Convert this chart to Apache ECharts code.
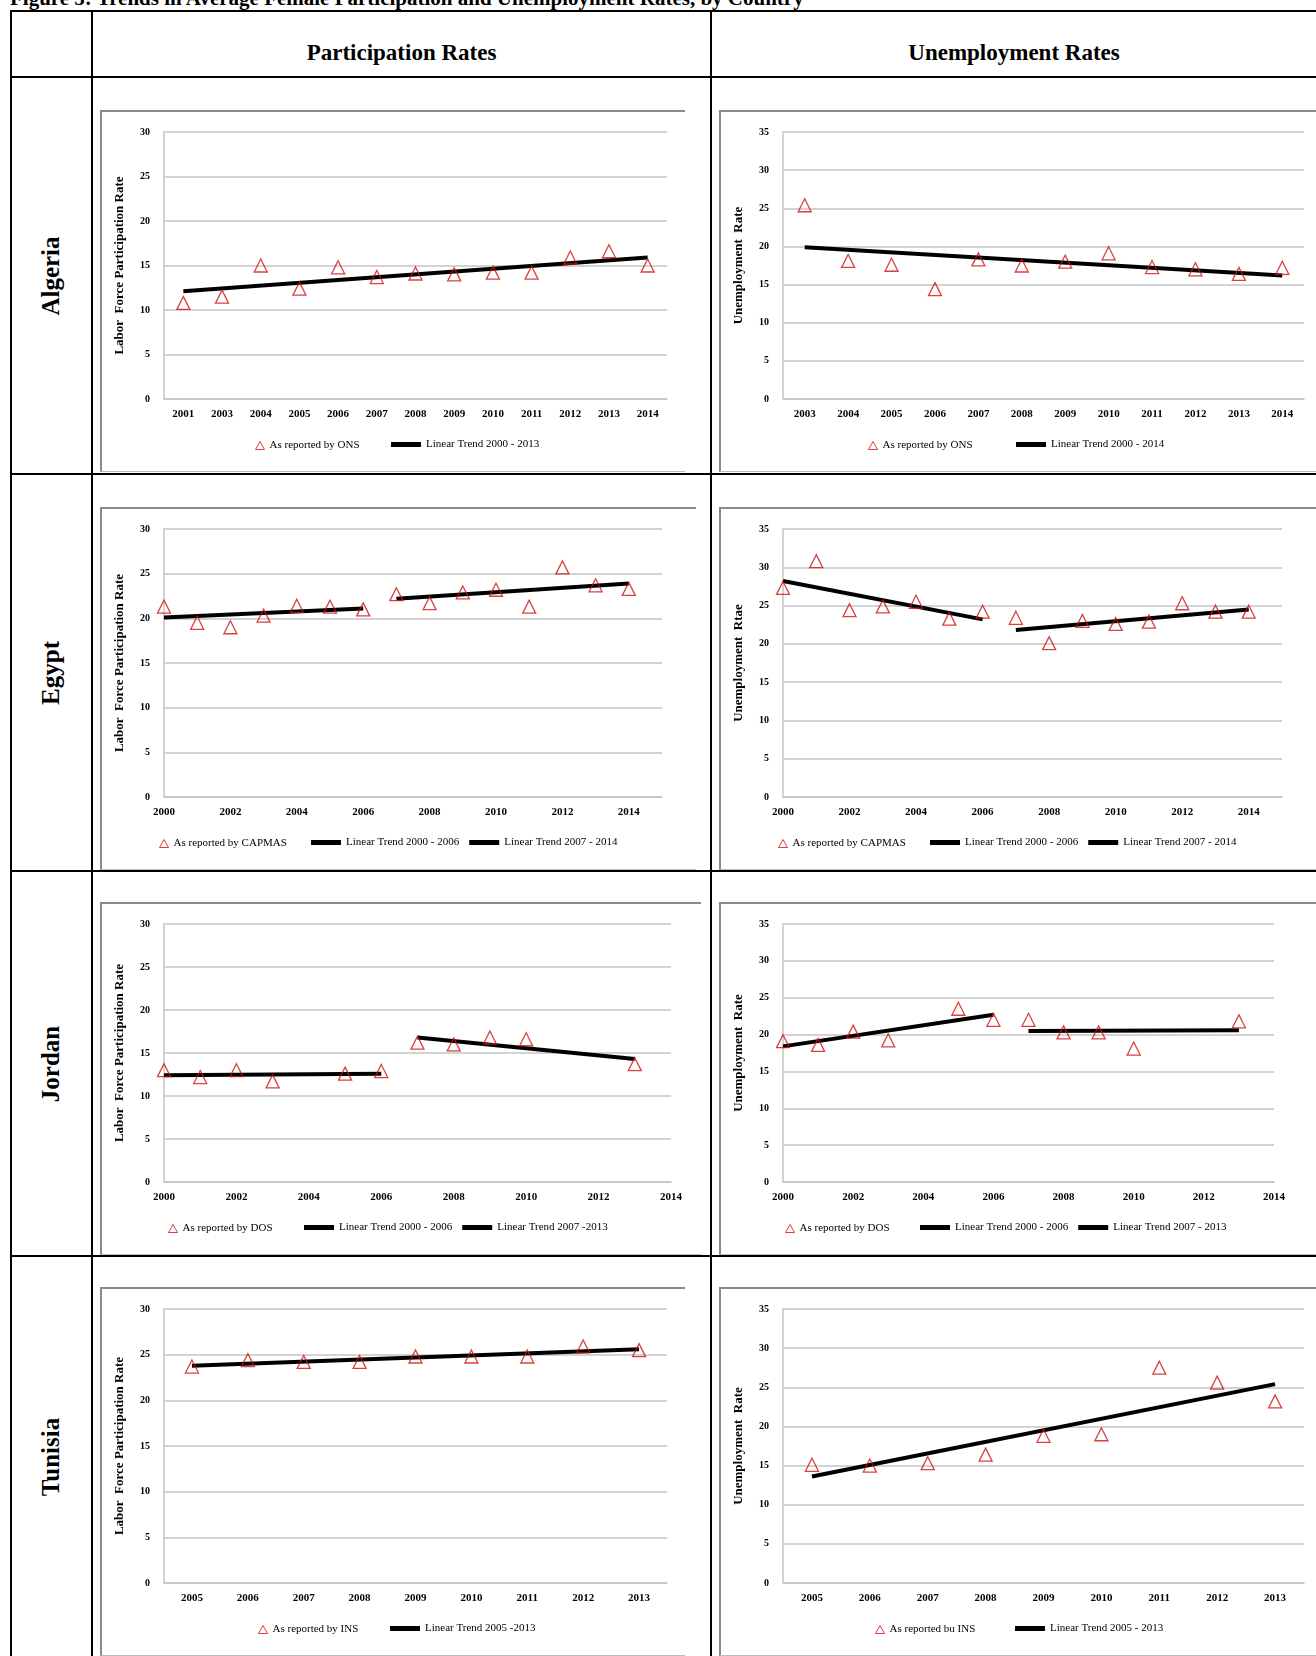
<!DOCTYPE html>
<html>
<head>
<meta charset="UTF-8">
<title>Figure 5</title>
<script src="https://cdn.jsdelivr.net/npm/echarts@6/dist/echarts.min.js"></script>
<style>
	body{margin:0;width:1316px;height:1656px;overflow:hidden;background:#fff;font-family:"Liberation Serif","Times New Roman",serif;position:relative;}
	.line{position:absolute;background:#000;}
	.title{position:absolute;left:10px;top:-14px;font-weight:bold;font-size:21px;white-space:nowrap;}
	.head{position:absolute;top:40px;font-weight:bold;font-size:23px;text-align:center;}
	.country{position:absolute;left:10px;width:82px;font-weight:bold;font-size:25px;}
	.country span{position:absolute;left:50%;top:50%;transform:translate(-50%,-50%) rotate(-90deg);white-space:nowrap;}
	.box{position:absolute;border-top:2px solid #8a8a8a;border-left:2px solid #8a8a8a;border-bottom:1px solid #bbb;box-sizing:border-box;}
</style>
</head>
<body>
<div class="title">Figure 5: Trends in Average Female Participation and Unemployment Rates, by Country</div>
<div class="line" style="left:10px;top:10px;width:1306px;height:2px"></div>
<div class="line" style="left:10px;top:76px;width:1306px;height:2px"></div>
<div class="line" style="left:10px;top:473px;width:1306px;height:2px"></div>
<div class="line" style="left:10px;top:870px;width:1306px;height:2px"></div>
<div class="line" style="left:10px;top:1255px;width:1306px;height:2px"></div>
<div class="line" style="left:10px;top:10px;width:2px;height:1646px"></div>
<div class="line" style="left:91px;top:10px;width:2px;height:1646px"></div>
<div class="line" style="left:710px;top:10px;width:2px;height:1646px"></div>
<div class="head" style="left:93px;width:617px">Participation Rates</div>
<div class="head" style="left:712px;width:604px">Unemployment Rates</div>
<div class="country" style="top:78px;height:395px"><span>Algeria</span></div>
<div class="country" style="top:475px;height:395px"><span>Egypt</span></div>
<div class="country" style="top:872px;height:383px"><span>Jordan</span></div>
<div class="country" style="top:1257px;height:399px"><span>Tunisia</span></div>

<div class="box" id="c1" style="left:100px;top:110px;width:585px;height:362px"></div>
<div class="box" id="c2" style="left:719px;top:110px;width:597px;height:362px"></div>
<div class="box" id="c3" style="left:100px;top:507px;width:596px;height:363px"></div>
<div class="box" id="c4" style="left:719px;top:507px;width:597px;height:363px"></div>
<div class="box" id="c5" style="left:100px;top:902px;width:601px;height:353px"></div>
<div class="box" id="c6" style="left:719px;top:902px;width:597px;height:353px"></div>
<div class="box" id="c7" style="left:100px;top:1287px;width:585px;height:369px"></div>
<div class="box" id="c8" style="left:719px;top:1287px;width:597px;height:369px"></div>

<script>
// Algeria
var algYearsP = ["2001","2003","2004","2005","2006","2007","2008","2009","2010","2011","2012","2013","2014"];
var algPart = [10.8,11.5,15.0,12.4,14.8,13.7,14.1,14.0,14.2,14.2,15.9,16.6,15.0];
var algPartTrend = [["2001",12.1],["2014",15.9]];
var algYearsU = ["2003","2004","2005","2006","2007","2008","2009","2010","2011","2012","2013","2014"];
var algUnemp = [25.4,18.1,17.6,14.4,18.3,17.5,18.0,19.1,17.3,17.0,16.4,17.2];
var algUnempTrend = [["2003",19.9],["2014",16.2]];
// Egypt
var egyYears = [2000,2001,2002,2003,2004,2005,2006,2007,2008,2009,2010,2011,2012,2013,2014];
var egyPart = [21.3,19.5,19.0,20.3,21.4,21.3,21.0,22.7,21.7,22.9,23.2,21.3,25.7,23.7,23.3];
var egyPartTrend1 = [[2000,20.1],[2006,21.1]];
var egyPartTrend2 = [[2007,22.2],[2014,23.9]];
var egyUnemp = [27.3,30.8,24.4,24.9,25.5,23.3,24.2,23.4,20.1,23.0,22.6,22.9,25.3,24.2,24.2];
var egyUnempTrend1 = [[2000,28.2],[2006,23.2]];
var egyUnempTrend2 = [[2007,21.8],[2014,24.5]];
// Jordan
var jorYears = [2000,2001,2002,2003,2005,2006,2007,2008,2009,2010,2013];
var jorPart = [13.0,12.2,13.0,11.7,12.6,12.9,16.2,16.0,16.8,16.6,13.7];
var jorPartTrend1 = [[2000,12.4],[2006,12.6]];
var jorPartTrend2 = [[2007,16.8],[2013,14.3]];
var jorUnemp = [19.1,18.6,20.4,19.2,23.5,22.0,22.0,20.3,20.3,18.1,21.8];
var jorUnempTrend1 = [[2000,18.4],[2006,22.7]];
var jorUnempTrend2 = [[2007,20.5],[2013,20.6]];
// Tunisia
var tunYears = ["2005","2006","2007","2008","2009","2010","2011","2012","2013"];
var tunPart = [23.7,24.4,24.2,24.2,24.8,24.8,24.8,25.9,25.5];
var tunPartTrend = [["2005",23.8],["2013",25.6]];
var tunUnemp = [15.1,15.0,15.3,16.4,18.8,19.0,27.5,25.6,23.2];
var tunUnempTrend = [["2005",13.6],["2013",25.4]];

var serif = '"Liberation Serif","Times New Roman",serif';
var gridColor = '#c4c4c4';

function pairs(xs, ys){
	var out = [];
	for(var i=0;i<xs.length;i++){ out.push([xs[i], ys[i]]); }
	return out;
}

function makeChart(id, p){
	var chart = echarts.init(document.getElementById(id));
	var lineNames = [];
	var series = [{
		name:p.pointName, type:'scatter', symbol:'triangle', symbolSize:13,
		itemStyle:{color:'rgba(0,0,0,0)',borderColor:'#d01010',borderWidth:1.3},
		data:pairs(p.xs, p.ys), z:3
	}];
	for(var i=0;i<p.trends.length;i++){
		lineNames.push({name:p.trends[i].name, icon:'rect', itemStyle:{color:'#000'}});
		series.push({
			name:p.trends[i].name, type:'line', showSymbol:false, symbol:'none',
			lineStyle:{color:'#000',width:4}, itemStyle:{color:'#000'},
			data:p.trends[i].data, z:2
		});
	}
	var legText = {fontFamily:serif,fontSize:11,color:'#000'};
	var xAxis;
	if(p.cats){
		xAxis = {type:'category', data:p.cats, boundaryGap:true,
			axisLine:{lineStyle:{color:gridColor,width:1.5}}, axisTick:{show:false},
			axisLabel:{color:'#000',fontFamily:serif,fontWeight:'bold',fontSize:11,margin:10}};
	} else {
		xAxis = {type:'value', min:2000, max:p.xmax, interval:2,
			splitLine:{show:false},
			axisLine:{lineStyle:{color:gridColor,width:1.5}}, axisTick:{show:false},
			axisLabel:{color:'#000',fontFamily:serif,fontWeight:'bold',fontSize:11,margin:10,showMaxLabel:p.xmax==2014,
				formatter:function(v){return v%2===0 ? String(v) : '';}}};
	}
	chart.setOption({
		animation:false,
		grid:{left:62, right:p.right, top:20, bottom:72},
		legend:[
			{bottom:15, left:p.legP, data:[{name:p.pointName, icon:'triangle', itemStyle:{color:'#fff',borderColor:'#d01010',borderWidth:1}}],
				itemWidth:9, itemHeight:8, textStyle:legText},
			{bottom:16, left:p.legL - 6, data:lineNames, itemWidth:30, itemHeight:5, itemGap:10, textStyle:legText}
		],
		xAxis:xAxis,
		yAxis:{type:'value', min:0, max:p.ymax, interval:5,
			name:p.yName, nameLocation:'middle', nameGap:38, nameRotate:90,
			nameTextStyle:{fontFamily:serif,fontWeight:'bold',fontSize:13,color:'#000'},
			axisLine:{show:true,lineStyle:{color:gridColor,width:1.5}}, axisTick:{show:false},
			splitLine:{lineStyle:{color:gridColor,width:1.5}},
			axisLabel:{color:'#000',fontFamily:serif,fontWeight:'bold',fontSize:10,margin:14}},
		series:series
	});
}

makeChart('c1',{cats:algYearsP, xs:algYearsP, ys:algPart, ymax:30, right:18, legP:148, legL:290,
	yName:'Labor  Force Participation Rate', pointName:'As reported by ONS',
	trends:[{name:'Linear Trend 2000 - 2013', data:algPartTrend}]});
makeChart('c2',{cats:algYearsU, xs:algYearsU, ys:algUnemp, ymax:35, right:12, legP:142, legL:296,
	yName:'Unemployment  Rate', pointName:'As reported by ONS ',
	trends:[{name:'Linear Trend 2000 - 2014', data:algUnempTrend}]});
makeChart('c3',{xs:egyYears, ys:egyPart, ymax:30, xmax:2015, right:34, legP:52, legL:210,
	yName:'Labor  Force Participation Rate', pointName:'As reported by CAPMAS',
	trends:[{name:'Linear Trend 2000 - 2006', data:egyPartTrend1},{name:'Linear Trend 2007 - 2014', data:egyPartTrend2}]});
makeChart('c4',{xs:egyYears, ys:egyUnemp, ymax:35, xmax:2015, right:34, legP:52, legL:210,
	yName:'Unemployment  Rtae', pointName:'As reported by CAPMAS',
	trends:[{name:'Linear Trend 2000 - 2006', data:egyUnempTrend1},{name:'Linear Trend 2007 - 2014', data:egyUnempTrend2}]});
makeChart('c5',{xs:jorYears, ys:jorPart, ymax:30, xmax:2014, right:30, legP:61, legL:203,
	yName:'Labor  Force Participation Rate', pointName:'As reported by DOS',
	trends:[{name:'Linear Trend 2000 - 2006', data:jorPartTrend1},{name:'Linear Trend 2007 -2013', data:jorPartTrend2}]});
makeChart('c6',{xs:jorYears, ys:jorUnemp, ymax:35, xmax:2014, right:42, legP:59, legL:200,
	yName:'Unemployment  Rate', pointName:'As reported by DOS',
	trends:[{name:'Linear Trend 2000 - 2006', data:jorUnempTrend1},{name:'Linear Trend 2007 - 2013', data:jorUnempTrend2}]});
makeChart('c7',{cats:tunYears, xs:tunYears, ys:tunPart, ymax:30, right:18, legP:151, legL:289,
	yName:'Labor  Force Participation Rate', pointName:'As reported by INS',
	trends:[{name:'Linear Trend 2005 -2013', data:tunPartTrend}]});
makeChart('c8',{cats:tunYears, xs:tunYears, ys:tunUnemp, ymax:35, right:12, legP:149, legL:295,
	yName:'Unemployment  Rate', pointName:'As reported bu INS',
	trends:[{name:'Linear Trend 2005 - 2013', data:tunUnempTrend}]});
</script>
</body>
</html>
